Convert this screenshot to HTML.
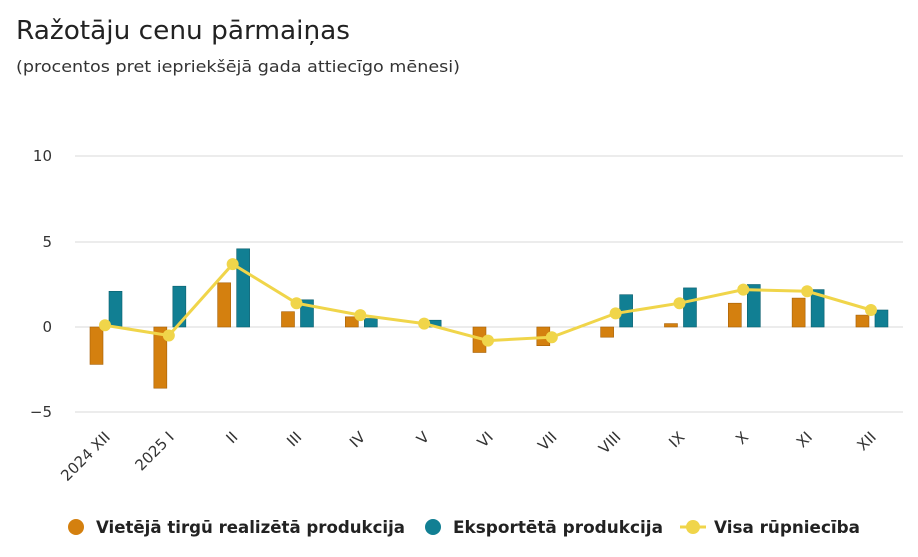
<!DOCTYPE html>
<html><head><meta charset="utf-8"><style>
html,body{margin:0;padding:0;background:#fff;}
svg{display:block;font-family:"DejaVu Sans","Liberation Sans",sans-serif;}
</style></head><body>
<svg width="918" height="557" viewBox="0 0 918 557" xmlns="http://www.w3.org/2000/svg">
<text x="16" y="39" font-size="26" fill="#222" textLength="334" lengthAdjust="spacingAndGlyphs">Ražotāju cenu pārmaiņas</text>
<text x="16" y="72" font-size="16" fill="#333" textLength="444" lengthAdjust="spacingAndGlyphs">(procentos pret iepriekšējā gada attiecīgo mēnesi)</text>
<g stroke="#d8d8d8" stroke-width="1">
<line x1="75" y1="156" x2="903" y2="156"/>
<line x1="75" y1="242" x2="903" y2="242"/>
<line x1="75" y1="327" x2="903" y2="327"/>
<line x1="75" y1="412" x2="903" y2="412"/>
</g>
<g font-size="15" fill="#333" text-anchor="end">
<text x="52" y="161">10</text>
<text x="52" y="247">5</text>
<text x="52" y="332">0</text>
<text x="52" y="417">−5</text>
</g>
<g id="bars"></g>
<g id="labels" font-size="15" fill="#333" text-anchor="end"></g>
<g id="line"></g>
<g font-size="17" font-weight="bold" fill="#222">
<circle cx="76" cy="527" r="8" fill="#d4800f"/>
<text x="96" y="533" textLength="309" lengthAdjust="spacingAndGlyphs">Vietējā tirgū realizētā produkcija</text>
<circle cx="433" cy="527" r="8" fill="#117f93"/>
<text x="453" y="533" textLength="210" lengthAdjust="spacingAndGlyphs">Eksportētā produkcija</text>
<line x1="680" y1="527" x2="706" y2="527" stroke="#f0d54a" stroke-width="3"/>
<circle cx="693" cy="527" r="7" fill="#f0d54a"/>
<text x="714" y="533" textLength="146" lengthAdjust="spacingAndGlyphs">Visa rūpniecība</text>
</g>
<script>
var o=[-2.2,-3.6,2.6,0.9,0.6,0,-1.5,-1.1,-0.6,0.2,1.4,1.7,0.7];
var t=[2.1,2.4,4.6,1.6,0.5,0.4,0,0,1.9,2.3,2.5,2.2,1.0];
var l=[0.1,-0.5,3.7,1.4,0.7,0.2,-0.8,-0.6,0.8,1.4,2.2,2.1,1.0];
var lab=["2024 XII","2025 I","II","III","IV","V","VI","VII","VIII","IX","X","XI","XII"];
var ns="http://www.w3.org/2000/svg";
function y(v){return 327-17*v;}
function el(n,a,p){var e=document.createElementNS(ns,n);for(var k in a)e.setAttribute(k,a[k]);p.appendChild(e);return e;}
var B=document.getElementById("bars"),L=document.getElementById("labels"),G=document.getElementById("line");
var pts=[];
for(var i=0;i<13;i++){
 var c=105+i*63.83;
 if(o[i]!=0){var y1=Math.min(y(0),y(o[i])),h=Math.abs(17*o[i]);el("rect",{x:c-15,y:y1,width:13,height:h,fill:"#d4800f",stroke:"#a55f05","stroke-width":0.6},B);}
 if(t[i]!=0){var y2=Math.min(y(0),y(t[i])),h2=Math.abs(17*t[i]);el("rect",{x:c+4,y:y2,width:13,height:h2,fill:"#117f93",stroke:"#0b5f6e","stroke-width":0.6},B);}
 pts.push(c+","+y(l[i]));
 var tx=el("text",{x:c+6,y:438,transform:"rotate(-45 "+(c+6)+" 438)"},L);tx.textContent=lab[i];
}
el("polyline",{points:pts.join(" "),fill:"none",stroke:"#f0d54a","stroke-width":3},G);
for(var i=0;i<13;i++){var p=pts[i].split(",");el("circle",{cx:p[0],cy:p[1],r:6,fill:"#f0d54a"},G);}
</script>
</svg>
</body></html>
